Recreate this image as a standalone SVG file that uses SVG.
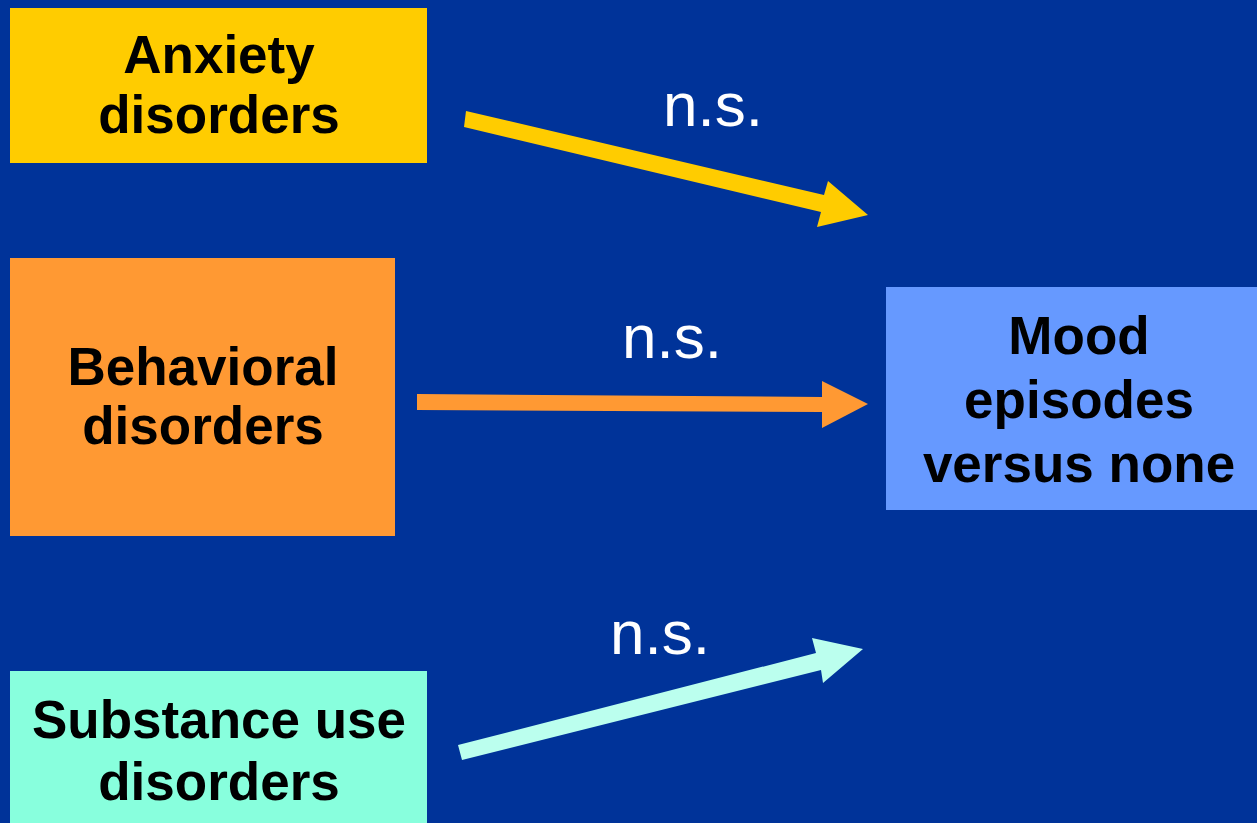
<svg xmlns="http://www.w3.org/2000/svg" width="1257" height="823" viewBox="0 0 1257 823">
<style>
.lbl{font-family:"Liberation Sans",Arial,sans-serif;font-weight:bold;font-size:53px;fill:#000;text-anchor:middle}
.ns{font-family:"Liberation Sans",Arial,sans-serif;font-size:62px;fill:#fff;text-anchor:middle}
</style>
<rect width="1257" height="823" fill="#003399"/>
<g id="anxiety">
<rect x="10" y="8" width="417" height="155" fill="#FFCC00"/>
<text class="lbl" x="219" y="73">Anxiety</text>
<text class="lbl" x="219" y="133">disorders</text>
</g>
<g id="behavioral">
<rect x="10" y="258" width="385" height="278" fill="#FF9933"/>
<text class="lbl" x="203" y="385">Behavioral</text>
<text class="lbl" x="203" y="444">disorders</text>
</g>
<g id="substance">
<rect x="10" y="671" width="417" height="152" fill="#88FFDD"/>
<text class="lbl" x="219" y="738">Substance use</text>
<text class="lbl" x="219" y="800">disorders</text>
</g>
<g id="mood">
<rect x="886" y="287" width="371" height="223" fill="#6699FF"/>
<text class="lbl" x="1079" y="354">Mood</text>
<text class="lbl" x="1079" y="418">episodes</text>
<text class="lbl" x="1079" y="482">versus none</text>
</g>
<g id="connectors">
<polygon points="466,111 824,195 828,181 868,215 817,227 821,212 464,127" fill="#FFCC00"/>
<polygon points="417,394 822,397 822,381 868,404 822,428 822,412 417,410" fill="#FF9933"/>
<polygon points="458,745 816,653 812,638 863,649 823,683 821,670 462,760" fill="#BBFFEE"/>
<text class="ns" x="713" y="126">n.s.</text>
<text class="ns" x="672" y="358">n.s.</text>
<text class="ns" x="660" y="654">n.s.</text>
</g>
</svg>
